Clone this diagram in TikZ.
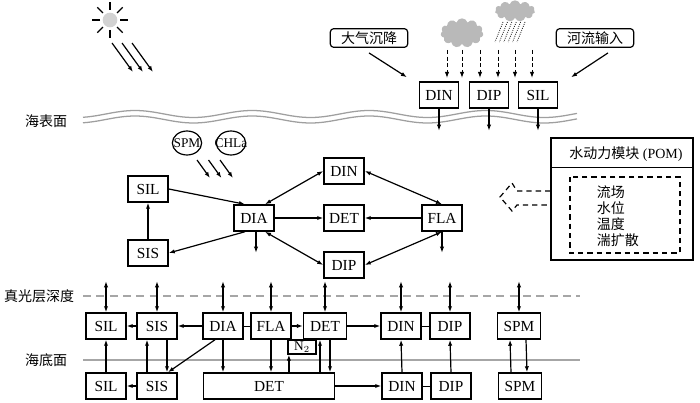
\documentclass[tikz,border=0pt]{standalone}
\usepackage{fontspec}
\setmainfont{Liberation Serif}
\newfontfamily\cjk{Noto Sans CJK SC}
\usetikzlibrary{arrows.meta,calc,shapes.geometric,shapes.symbols}
\tikzset{every picture/.style={line width=0.75pt}}
\tikzset{
	>={Latex[length=4.5pt,width=3.2pt]},
	box/.style={draw, line width=1.1pt, minimum width=30pt, minimum height=19.5pt, inner sep=1pt, font=\fontsize{11.5}{11.5}\selectfont},
	tag/.style={draw, rounded corners=2.5pt, line width=0.9pt, minimum width=58pt, minimum height=14pt, inner sep=1pt, font=\cjk\fontsize{10.5}{10.5}\selectfont},
	bubble/.style={draw, ellipse, line width=0.9pt, minimum width=22pt, minimum height=18pt, inner sep=0pt, font=\fontsize{10}{10}\selectfont},
	link/.style={->, line width=0.9pt},
	flux/.style={<->, line width=0.9pt},
	lbl/.style={font=\cjk\fontsize{10.5}{12}\selectfont},
	horizon/.style={draw=gray!70, line width=1.1pt},
	wave/.style={gray!75, line width=0.95pt},
	cloudy/.style={cloud, cloud puffs=11, fill=gray!55, draw=none, inner sep=0pt}
}

\begin{document}
\begin{tikzpicture}[x=0.75pt,y=0.75pt,yscale=-1,xscale=1]
	\useasboundingbox (0,0) rectangle (700,403);

	% sun and light
	\node[circle, fill=gray!35, inner sep=0pt, minimum size=11pt] (sun) at (110,20) {};
	\foreach \a in {0,45,...,315}
		\draw[line width=1pt] ($(sun)+(\a:10)$) -- ($(sun)+(\a:18)$);
	\foreach \d in {0,10,20}
		\draw[link] ({112+\d},43) -- ({133+\d},72);

	% clouds and rain
	\node[cloudy, minimum width=32pt, minimum height=22pt] (cloudA) at (462,33) {};
	\node[cloudy, minimum width=30pt, minimum height=16pt] (cloudB) at (515,11) {};
	\foreach \i in {0,...,5}
		\draw[densely dotted, line width=0.6pt] ({503+4.4*\i},22) -- ({495+4.4*\i},42);
	\foreach \x in {447,462,480,498,515,532}
		\draw[link, densely dashed, line width=0.7pt] (\x,50) -- (\x,78);

	% surface inputs
	\node[tag] (atm) at (369,38) {大气沉降};
	\node[tag] (river) at (595,38) {河流输入};
	\node[box, minimum width=29pt] (dinT) at (439,95) {DIN};
	\node[box, minimum width=29pt] (dipT) at (489,95) {DIP};
	\node[box, minimum width=29pt] (silT) at (538,95) {SIL};
	\draw[link] ($(atm.south)+(0,5)$) -- ($(dinT.north west)+(-12,-4)$);
	\draw[link] ($(river.south)+(13,5)$) -- ($(silT.north east)+(13,-4)$);

	% sea surface
	\draw[wave] plot[domain=83:577, samples=120, smooth] (\x, {114-3.5*cos(3.077*(\x-135))});
	\draw[wave] plot[domain=83:577, samples=120, smooth] (\x, {119.5-3.5*cos(3.077*(\x-135))});
	\foreach \n in {dinT,dipT,silT}
		\draw[link] (\n.south) -- ++(0,22);

	% levels
	\node[lbl] (surf) at (46,121) {海表面};
	\node[lbl] (euph) at (39,296) {真光层深度};
	\node[lbl] (bed) at (46,360) {海底面};
	\draw[horizon, dash pattern=on 6pt off 4pt] (83,296) -- (580,296);
	\draw[horizon] (83,360) -- (580,360);

	% upper layer
	\node[bubble] (spm) at (187,143) {\makebox[0pt]{SPM}};
	\node[bubble] (chla) at (231,143) {\makebox[0pt]{CHLa}};
	\foreach \d in {0,11.5,23}
		\draw[link] ({197+\d},160) -- ({210+\d},178);

	\node[box] (silM) at (148,189) {SIL};
	\node[box] (sisM) at (148,253) {SIS};
	\node[box] (dia) at (254,218) {DIA};
	\node[box] (dinM) at (344,171) {DIN};
	\node[box] (detM) at (344,218) {DET};
	\node[box] (dipM) at (344,265) {DIP};
	\node[box] (fla) at (442,218) {FLA};

	\draw[link] (silM.east) -- ($(dia.north)+(-9,0)$);
	\draw[link] (sisM.north) -- (silM.south);
	\draw[link] ($(dia.south)+(-9,0)$) -- (sisM.east);
	\draw[flux] ($(dia.north)+(11,0)$) -- (dinM.west);
	\draw[link] (dia.east) -- (detM.west);
	\draw[link] (fla.west) -- (detM.east);
	\draw[flux] (dinM.east) -- (fla.north);
	\draw[flux] ($(dia.south)+(11,0)$) -- (dipM.west);
	\draw[flux] (dipM.east) -- (fla.south);
	\draw[link] ($(dia.south)+(2,0)$) -- ++(0,21);
	\draw[link] (fla.south) -- ++(0,21);

	% lower layer
	\node[box] (sil1) at (106,326) {SIL};
	\node[box] (sis1) at (157,326) {SIS};
	\node[box] (dia1) at (223,326) {DIA};
	\node[box] (fla1) at (271,326) {FLA};
	\node[box, minimum width=32pt] (det1) at (325,326) {DET};
	\node[box] (din1) at (401,326) {DIN};
	\node[box] (dip1) at (450,326) {DIP};
	\node[box, minimum width=32pt] (spm1) at (519,326) {SPM};
	\node[box, minimum width=21pt, minimum height=10.5pt, inner sep=0pt, line width=0.9pt, font=\fontsize{10}{10}\selectfont] (n2) at (302,347) {N$_2$};

	\foreach \n in {sil1,sis1,dia1,fla1,det1,din1,dip1,spm1}
		\draw[flux] (\n.north) -- ++(0,-31);

	\draw[link] (sis1.west) -- (sil1.east);
	\draw[link] (dia1.west) -- (sis1.east);
	\draw (dia1.east) -- (fla1.west);
	\draw[link] (fla1.east) -- (det1.west);
	\draw[link] (det1.east) -- (din1.west);
	\draw (din1.east) -- (dip1.west);

	% sediment
	\node[box] (sil2) at (106,386) {SIL};
	\node[box] (sis2) at (157,386) {SIS};
	\node[box, minimum width=98pt] (det2) at (269,386) {DET};
	\node[box] (din2) at (402,386) {DIN};
	\node[box] (dip2) at (451,386) {DIP};
	\node[box, minimum width=32pt] (spm2) at (520,386) {SPM};

	\draw[link] (sis2.west) -- (sil2.east);
	\draw[link] (det2.east) -- (din2.west);
	\draw (din2.east) -- (dip2.west);

	\draw[link] (sil2.north) -- (sil1.south);
	\draw[link] ($(sis2.north)+(-10,0)$) -- ($(sis1.south)+(-10,0)$);
	\draw[link] ($(sis1.south)+(10,0)$) -- ($(sis2.north)+(10,0)$);
	\draw[link] ($(dia1.south)+(-8,0)$) -- ($(sis2.north)+(11,0)$);
	\draw[link] (dia1.south) -- (dia1.south |- det2.north);
	\draw[link] (fla1.south) -- (fla1.south |- det2.north);
	\coordinate (n2foot) at ($(n2.south west)+(1.5,0)$);
	\draw[link] (det2.north -| n2foot) -- (n2foot);
	\coordinate (detup) at ($(det1.south)+(-5,0)$);
	\coordinate (detdown) at ($(det1.south)+(5,0)$);
	\draw[link] (det2.north -| detup) -- (detup);
	\draw[link] (detdown) -- (det2.north -| detdown);
	\draw[link] (din2.north) -- (din1.south);
	\draw[link] (dip2.north) -- (dip1.south);
	\draw[link] ($(spm2.north)+(-9,0)$) -- ($(spm1.south)+(-9,0)$);
	\draw[link] ($(spm1.south)+(7,0)$) -- ($(spm2.north)+(7,0)$);

	% hydrodynamic module
	\node[draw, line width=0.9pt, minimum width=106.5pt, minimum height=91.5pt] (pom) at (622,199) {};
	\draw[line width=0.9pt] ($(pom.north west)+(0,30)$) -- ($(pom.north east)+(0,30)$);
	\node[font=\fontsize{10.5}{10.5}\selectfont] (pomtitle) at (626,154) {{\cjk 水动力模块} (POM)};
	\draw[line width=1.1pt, dash pattern=on 4pt off 3pt] (570,177) rectangle (680,253);
	\node[lbl, align=left, anchor=west] (pomvars) at (592,216) {流场\\水位\\温度\\湍扩散};
	\draw[line width=0.9pt, dash pattern=on 4pt off 3pt] ($(pom.west)+(0,-8)$) -- (517,191) -- (512,183) -- (500,197) -- (512,211) -- (517,205) -- ($(pom.west)+(0,6)$);

\end{tikzpicture}
\end{document}
